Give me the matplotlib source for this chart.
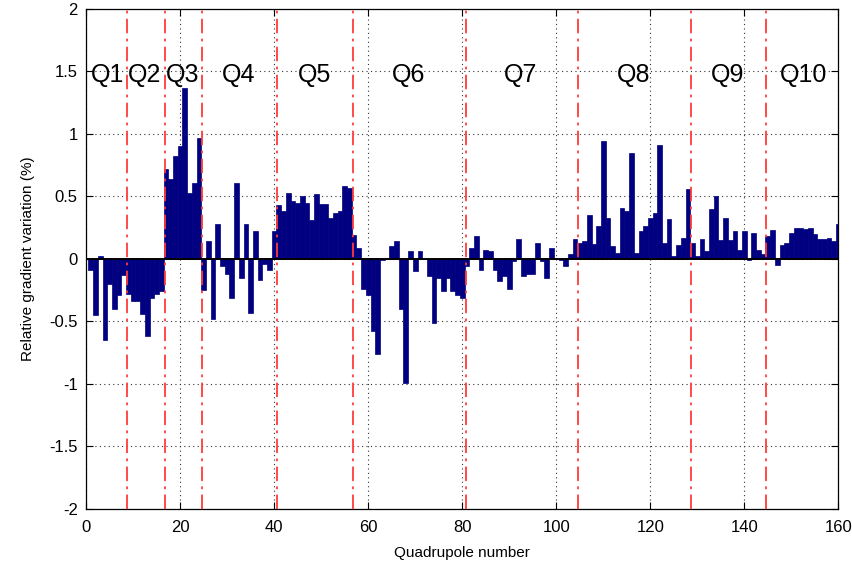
import matplotlib
matplotlib.use("Agg")
import matplotlib.pyplot as plt
import numpy as np
from matplotlib.ticker import FuncFormatter

plt.rcParams['font.family'] = ['Liberation Sans', 'DejaVu Sans']

# --- data (relative gradient variation in %, per quadrupole, grouped by family) ---
q1 = [-0.09, -0.45, 0.02, -0.65, -0.20, -0.40, -0.29, -0.13]
q2 = [-0.28, -0.34, -0.34, -0.44, -0.62, -0.31, -0.28, -0.26]
q3 = [0.72, 0.64, 0.82, 0.90, 1.37, 0.53, 0.61, 0.97]
q4 = [-0.25, 0.14, -0.48, 0.28, -0.06, -0.12, -0.31, 0.61,
      -0.15, 0.28, -0.43, 0.22, -0.17, -0.04, -0.09, 0.22]
q5 = [0.43, 0.38, 0.53, 0.46, 0.45, 0.50, 0.45, 0.31,
      0.52, 0.44, 0.44, 0.33, 0.37, 0.38, 0.58, 0.57]
q6 = [0.19, 0.09, -0.24, -0.29, -0.58, -0.76, -0.01, 0.00,
      0.10, 0.14, -0.40, -0.99, 0.06, -0.10, 0.06, 0.00,
      -0.14, -0.51, -0.15, -0.26, -0.15, -0.26, -0.29, -0.31]
q7 = [-0.06, 0.09, 0.18, -0.09, 0.07, 0.06, -0.09, -0.18,
      -0.14, -0.24, -0.02, 0.16, -0.14, -0.12, -0.12, 0.13,
      -0.02, -0.15, 0.09, 0.00, -0.01, -0.06, 0.04, 0.16]
q8 = [0.13, 0.14, 0.35, 0.12, 0.26, 0.94, 0.33, 0.10,
      0.05, 0.41, 0.38, 0.85, 0.05, 0.22, 0.26, 0.33,
      0.37, 0.91, 0.13, 0.32, 0.02, 0.11, 0.17, 0.56]
q9 = [0.13, 0.02, 0.16, 0.06, 0.40, 0.50, 0.15, 0.33,
      0.15, 0.22, 0.07, 0.22, -0.01, 0.21, 0.07, 0.04]
q10 = [0.18, 0.23, -0.05, 0.11, 0.13, 0.21, 0.25, 0.25,
       0.24, 0.25, 0.20, 0.16, 0.16, 0.17, 0.14, 0.28]

groups = [q1, q2, q3, q4, q5, q6, q7, q8, q9, q10]
group_labels = ['Q1', 'Q2', 'Q3', 'Q4', 'Q5', 'Q6', 'Q7', 'Q8', 'Q9', 'Q10']
x_ticks = [0, 20, 40, 60, 80, 100, 120, 140, 160]
y_ticks = [-2, -1.5, -1, -0.5, 0, 0.5, 1, 1.5, 2]

values = np.concatenate([np.array(g) for g in groups])
quad = np.arange(1, len(values) + 1)
counts = np.array([len(g) for g in groups])
ends = np.cumsum(counts)
starts = ends - counts
boundaries = ends[:-1] + 0.5
centers = (starts + ends) / 2.0 + 0.5

fig = plt.figure(figsize=(8.52, 5.64), dpi=100)
ax = fig.add_axes([0.101, 0.0975, 0.883, 0.887])

ax.bar(quad, values, width=1.0, color='#000080', edgecolor='#000080',
       linewidth=0.5, zorder=3)
ax.axhline(0, color='black', linewidth=1.4, zorder=4)

for b in boundaries:
    ax.axvline(b + 0.2, color='#ff3b3b', linestyle=(0, (8, 3, 1.5, 3)),
               linewidth=1.3, zorder=5)

for c, lab in zip(centers, group_labels):
    ax.text(c, 1.47, lab, ha='center', va='center', fontsize=18, zorder=6)

ax.set_xlim(0, 160)
ax.set_ylim(-2, 2)
ax.set_xticks(x_ticks)
ax.set_yticks(y_ticks)
ax.yaxis.set_major_formatter(FuncFormatter(lambda v, p: '%g' % v))
ax.xaxis.set_major_formatter(FuncFormatter(lambda v, p: '%g' % v))
ax.grid(True, linestyle=(0, (1, 3)), color='#333333', linewidth=0.8, zorder=1)
ax.tick_params(direction='in', length=5, width=0.8, top=True, right=True,
               labelsize=12, colors='black')
ax.tick_params(axis='x', pad=8)
ax.tick_params(axis='y', pad=6)
for s in ax.spines.values():
    s.set_linewidth(0.9)

ax.set_xlabel('Quadrupole number', fontsize=11, labelpad=8)
ax.set_ylabel('Relative gradient variation (%)', fontsize=11, labelpad=10)

fig.savefig('out.png', dpi=100)
